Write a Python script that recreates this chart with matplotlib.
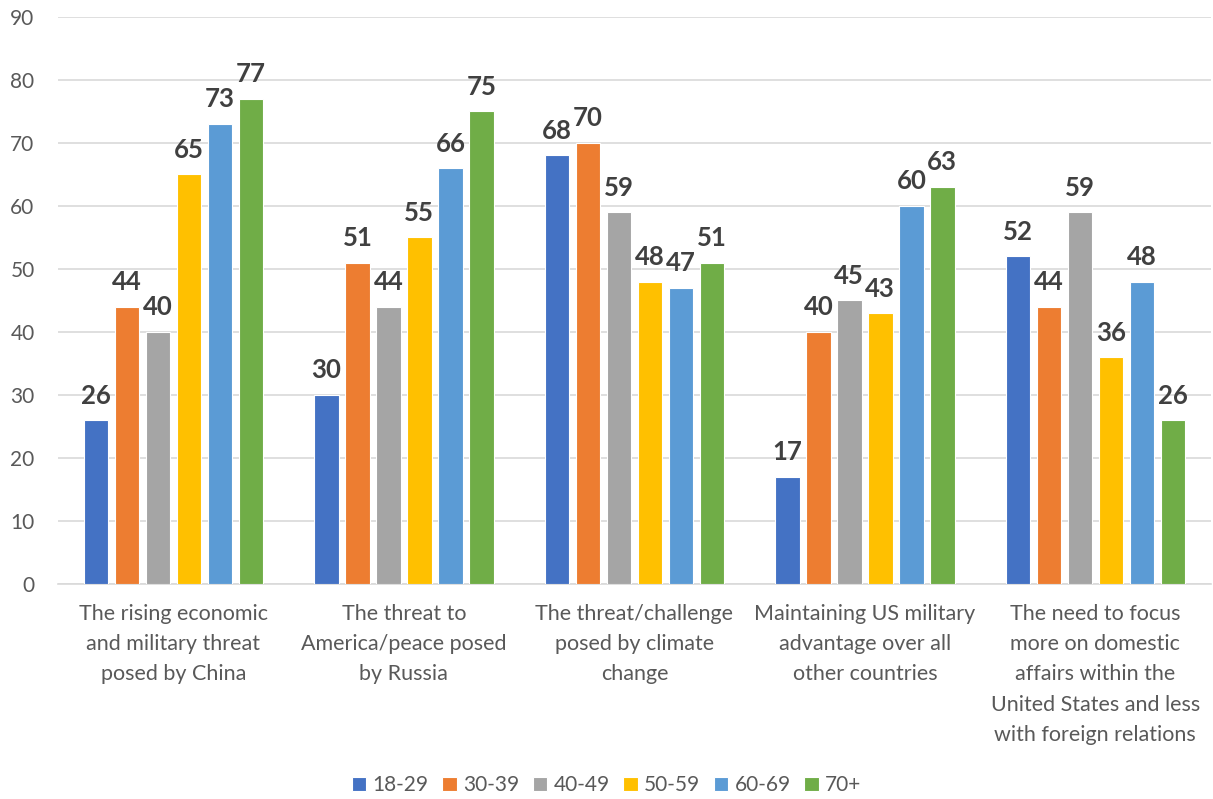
import matplotlib
matplotlib.use("Agg")
import matplotlib.pyplot as plt
import numpy as np

plt.rcParams['font.family'] = ['Lato', 'DejaVu Sans']

categories = [
    "The rising economic\nand military threat\nposed by China",
    "The threat to\nAmerica/peace posed\nby Russia",
    "The threat/challenge\nposed by climate\nchange",
    "Maintaining US military\nadvantage over all\nother countries",
    "The need to focus\nmore on domestic\naffairs within the\nUnited States and less\nwith foreign relations",
]
series_names = ["18-29", "30-39", "40-49", "50-59", "60-69", "70+"]
values = {
    "18-29": [26, 30, 68, 17, 52],
    "30-39": [44, 51, 70, 40, 44],
    "40-49": [40, 44, 59, 45, 59],
    "50-59": [65, 55, 48, 43, 36],
    "60-69": [73, 66, 47, 60, 48],
    "70+":   [77, 75, 51, 63, 26],
}
colors = ["#4472C4", "#ED7D31", "#A5A5A5", "#FFC000", "#5B9BD5", "#70AD47"]

fig = plt.figure(figsize=(12.13, 7.99), dpi=100)
ax = fig.add_axes([0.048, 0.269, 0.95, 0.71])

x = np.arange(len(categories))
step = 0.1345
w = 0.106
for i, (name, c) in enumerate(zip(series_names, colors)):
    pos = x + (i - 2.5) * step
    bars = ax.bar(pos, values[name], width=w, color=c, edgecolor="white", linewidth=0.8, label=name, zorder=3)
    for b, v in zip(bars, values[name]):
        ax.annotate(str(v), (b.get_x() + b.get_width() / 2, v), xytext=(0, 9),
                    textcoords="offset points", ha="center", va="bottom",
                    fontsize=18.5, fontweight="bold", color="#404040")

ax.set_xlim(-0.5, len(categories) - 0.5)
ax.set_ylim(0, 90)
ax.set_yticks(np.arange(0, 91, 10))
ax.grid(axis="y", color="#D9D9D9", linewidth=1.2, zorder=0)
ax.set_axisbelow(True)
for s in ["top", "right", "left"]:
    ax.spines[s].set_visible(False)
ax.spines["bottom"].set_color("#D9D9D9")
ax.spines["bottom"].set_linewidth(1.2)
ax.tick_params(axis="both", length=0, colors="#595959", labelsize=15)
ax.tick_params(axis="y", pad=17)
ax.set_xticks(x)
ax.set_xticklabels(categories, linespacing=1.65, fontsize=15.5)
ax.tick_params(axis="x", pad=14)

leg = fig.legend(loc="center", bbox_to_anchor=(0.5, 0.017), ncol=6, frameon=False,
                 fontsize=15, handlelength=0.7, handleheight=0.7, handletextpad=0.3,
                 columnspacing=0.65, labelcolor="#595959")

fig.savefig("out.png", dpi=100)
